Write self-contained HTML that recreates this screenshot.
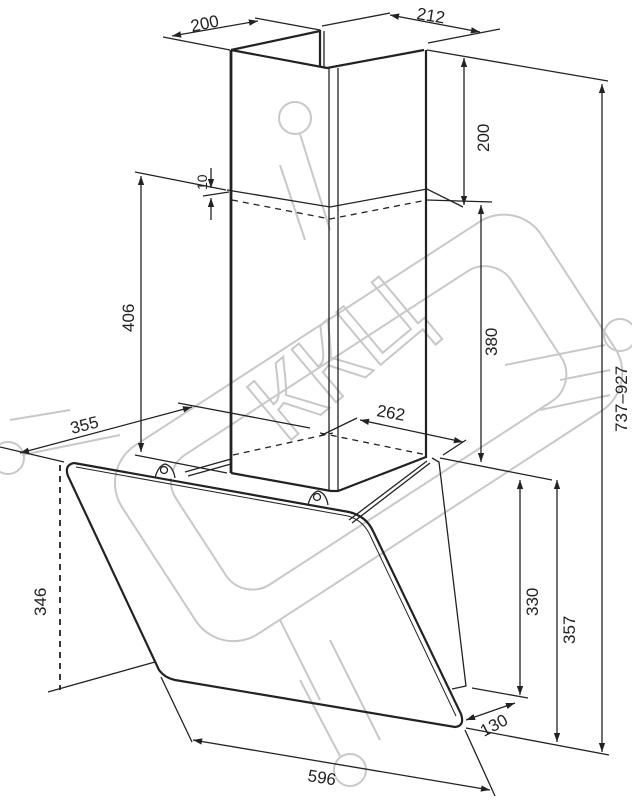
<!DOCTYPE html>
<html><head><meta charset="utf-8"><style>
html,body{margin:0;padding:0;background:#fff;}
svg{display:block;}
text{font-family:"Liberation Sans",sans-serif;font-size:17px;fill:#222;}
</style></head><body>
<svg width="632" height="800" viewBox="0 0 632 800" xmlns="http://www.w3.org/2000/svg">
<defs>
<marker id="a" viewBox="0 0 10 10" refX="10" refY="5" markerWidth="7" markerHeight="7" orient="auto-start-reverse"><path d="M0,1.5 L10,5 L0,8.5 z" fill="#222"/></marker>
</defs>
<!-- watermark -->
<g fill="none" stroke="#c8c8c8" stroke-width="2">
<g transform="rotate(-33 370 430)">
<rect x="120" y="315" width="500" height="225" rx="45"/>
<rect x="170" y="350" width="400" height="155" rx="32"/>
</g>
<circle cx="295" cy="118" r="16"/><line x1="300" y1="134" x2="330" y2="230"/>
<line x1="280" y1="165" x2="305" y2="240"/>
<circle cx="350" cy="770" r="16"/><line x1="340" y1="756" x2="300" y2="680"/>
<line x1="380" y1="740" x2="330" y2="640"/><line x1="320" y1="700" x2="280" y2="620"/>
<circle cx="620" cy="335" r="16"/><line x1="605" y1="345" x2="505" y2="365"/>
<line x1="560" y1="380" x2="610" y2="370"/><line x1="540" y1="410" x2="610" y2="395"/>
<circle cx="8" cy="458" r="16"/><line x1="22" y1="455" x2="120" y2="435"/><line x1="10" y1="420" x2="70" y2="410"/>
</g>
<text x="0" y="0" transform="translate(285,445) rotate(-40)" style="font-size:100px;fill:none;stroke:#c8c8c8;stroke-width:2">ККЦ</text>

<g fill="none" stroke="#222" stroke-width="1.3">
<!-- chimney -->
<path d="M231,50 L231,473" stroke-width="2.8"/>
<path d="M231,50 L327,68 L424,50" stroke-width="2.2"/>
<path d="M231,50 L320,31 L320,66" stroke-width="2.2"/>
<path d="M324,31 L324,67"/>
<path d="M426,50 L426,458" stroke-width="2.2"/>
<path d="M329,68 L329,490"/><path d="M338,68 L338,490"/>
<path d="M227,190 L330,207 L427,189 L463,207" />
<path d="M232,200 L330,219 L427,200" stroke-dasharray="6,5"/>
<path d="M231,473 L331,491 L338,491 L426,457" stroke-width="2.2"/>
<path d="M233,455 L333,433 M320,433 L427,455" stroke-dasharray="6,5"/>
<!-- rails -->
<path d="M185,472 L231,459 M188,476 L231,464"/>
<path d="M349,520 L427,461 M352,523 L430,463"/>
<path d="M155,478 q3,-12 10,-14 q8,2 10,14" fill="#fff"/><circle cx="164" cy="470" r="3.5"/>
<path d="M308,505 q3,-12 10,-14 q8,2 10,14" fill="#fff"/><circle cx="317" cy="497" r="3.5"/>
<!-- back body -->
<path d="M432,458 L439,462 L466,686 L452,689"/>
<!-- glass panel -->
<path d="M74,463 L349,512 Q366,516 373,531 L461,714 Q465,726 455,727 L175,680 Q165,678 159,670 L68,476 Q64,465 74,463 Z" stroke-width="2.2"/>
<path d="M76,467 L348,516 Q362,520 369,533 L456,716" stroke-width="1"/>
<!-- dims: 200 top-left -->
<path d="M163,37 L230,50 M255,18 L320,30"/>
<line x1="172" y1="36" x2="258" y2="21" marker-start="url(#a)" marker-end="url(#a)"/>
<!-- 212 -->
<path d="M322,26 L390,13 M428,43 L500,29"/>
<line x1="390" y1="15" x2="480" y2="32" marker-start="url(#a)" marker-end="url(#a)"/>
<!-- right 200 -->
<path d="M427,50 L608,81"/>
<line x1="464" y1="58" x2="464" y2="205" marker-start="url(#a)" marker-end="url(#a)"/>
<!-- 380 -->
<path d="M427,200 L492,202"/>
<line x1="481" y1="205" x2="481" y2="462" marker-start="url(#a)" marker-end="url(#a)"/>
<!-- 406 -->
<path d="M135,172 L226,190 M135,455 L227,473"/>
<line x1="141" y1="176" x2="141" y2="452" marker-start="url(#a)" marker-end="url(#a)"/>
<!-- 10 -->
<path d="M203,196 L229,192"/>
<line x1="211" y1="168" x2="211" y2="188" marker-end="url(#a)"/>
<line x1="211" y1="220" x2="211" y2="198" marker-end="url(#a)"/>
<!-- 737-927 -->
<line x1="602" y1="84" x2="602" y2="752" marker-start="url(#a)" marker-end="url(#a)"/>
<path d="M466,728 L609,755"/>
<!-- 355 -->
<path d="M0,447 L64,462 M178,403 L310,428"/>
<line x1="20" y1="453" x2="192" y2="407" marker-start="url(#a)" marker-end="url(#a)"/>
<!-- 262 -->
<path d="M320,436 L357,418 M443,455 L466,440"/>
<line x1="360" y1="420" x2="463" y2="442" marker-start="url(#a)" marker-end="url(#a)"/>
<!-- 346 -->
<line x1="60" y1="465" x2="60" y2="690" stroke-dasharray="6,5" stroke-width="1.8"/>
<path d="M48,692 L155,662"/>
<!-- 330 / 357 -->
<path d="M440,458 L552,480 M472,688 L528,698"/>
<line x1="520" y1="480" x2="520" y2="695" marker-start="url(#a)" marker-end="url(#a)"/>
<line x1="557" y1="480" x2="557" y2="742" marker-start="url(#a)" marker-end="url(#a)"/>
<!-- 130 -->
<line x1="466" y1="720" x2="515" y2="703" marker-start="url(#a)" marker-end="url(#a)"/>
<!-- 596 -->
<path d="M161,677 L192,742 M465,730 L495,796"/>
<line x1="193" y1="740" x2="490" y2="790" marker-start="url(#a)" marker-end="url(#a)"/>
</g>
<text transform="translate(192,32) rotate(-12)">200</text>
<text transform="translate(416,19) rotate(9)">212</text>
<text transform="translate(489,152) rotate(-90)">200</text>
<text transform="translate(497,356) rotate(-90)">380</text>
<text transform="translate(134,332) rotate(-90)">406</text>
<text transform="translate(207,190) rotate(-90)" style="font-size:14px">10</text>
<text transform="translate(627,432) rotate(-90)">737–927</text>
<text transform="translate(72,434) rotate(-14)">355</text>
<text transform="translate(376,416) rotate(10)">262</text>
<text transform="translate(46,616) rotate(-90)">346</text>
<text transform="translate(538,616) rotate(-90)">330</text>
<text transform="translate(575,644) rotate(-90)">357</text>
<text transform="translate(484,737) rotate(-28)">130</text>
<text transform="translate(307,781) rotate(9)">596</text>
</svg>
</body></html>
